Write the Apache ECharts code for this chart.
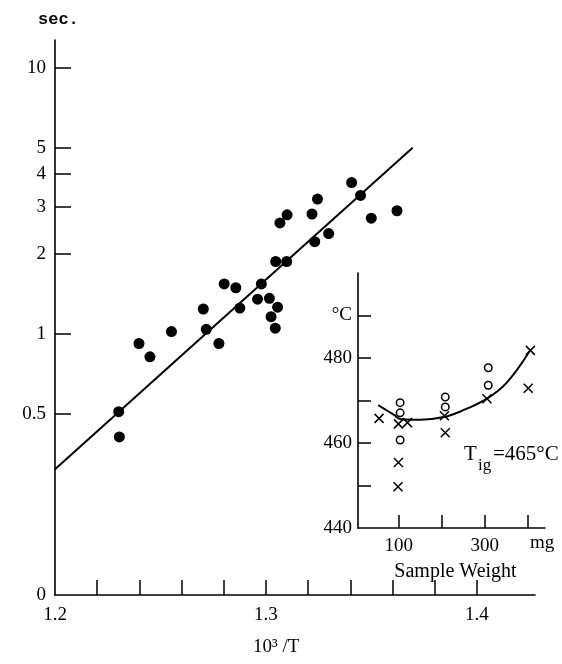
<!DOCTYPE html>
<html><head><meta charset="utf-8">
<script src="https://cdn.jsdelivr.net/npm/echarts@6/dist/echarts.min.js"></script>
<style>html,body{margin:0;padding:0;background:#fff}#c{width:562px;height:664px}</style>
</head><body><div id="c"></div>
<script>
// Main plot: ignition delay (sec.) vs 10^3/T
const invT = [1.3406,1.3448,1.3244,1.3100,1.3066,1.3218,1.3499,1.3621,1.3297,1.3231,1.3046,1.3098,1.2802,1.2857,1.2978,1.2960,1.3016,1.3055,1.2703,1.2876,1.3024,1.3044,1.2552,1.2717,1.2398,1.2777,1.2450,1.2302,1.2305];
const delay = [3.70,3.31,3.21,2.80,2.61,2.82,2.72,2.90,2.38,2.22,1.87,1.87,1.54,1.49,1.54,1.35,1.36,1.26,1.24,1.25,1.16,1.05,1.02,1.04,0.92,0.92,0.82,0.51,0.41];
const fitX = [1.2, 1.3695];
const fitY = [0.31, 5.0];
const yTickValues = [0.5, 1, 2, 3, 4, 5, 10];
const xTickValues = [1.22, 1.24, 1.26, 1.28, 1.30, 1.32, 1.34, 1.36, 1.38, 1.40];
const xLabelValues = [1.2, 1.3, 1.4];

// Inset: ignition temperature vs sample weight
const crossW = [54, 99, 120, 206, 208, 305, 406, 401, 99, 98];
const crossT = [465.8, 464.5, 464.8, 466.4, 462.4, 470.4, 481.8, 472.9, 455.4, 449.7];
const circleW = [103, 103, 103, 208, 208, 308, 308];
const circleT = [469.5, 467.1, 460.7, 470.8, 468.5, 477.7, 473.6];
const curveW = [52, 89, 105, 150, 205, 245, 304, 350, 404];
const curveT = [468.9, 466.6, 465.6, 465.5, 466.1, 467.5, 470.4, 474.1, 481.6];
const insetXTicks = [100, 200, 300, 400];
const insetXLabels = [100, 300];
const insetYTicks = [450, 460, 470, 480, 490];
const insetYLabels = [440, 460, 480, 490];

const LMIN = Math.log10(0.1045), LMAX = Math.log10(12.7);
const SERIF = 'Liberation Serif';
const black = '#000';

const chart = echarts.init(document.getElementById('c'), null, {renderer: 'canvas'});
const axLine = {show: true, onZero: false, lineStyle: {color: black, width: 1.6}};
const tickStyle = {color: black, width: 1.5};

chart.setOption({
  animation: false,
  backgroundColor: '#fff',
  grid: [
    {left: 55, right: 27, top: 40, bottom: 69},
    {left: 358, right: 17, top: 273, bottom: 136}
  ],
  xAxis: [
    {gridIndex: 0, type: 'value', min: 1.2, max: 1.4275,
     axisLine: axLine, splitLine: {show: false},
     axisTick: {show: true, inside: true, length: 15, lineStyle: tickStyle, customValues: xTickValues},
     axisLabel: {customValues: xLabelValues, formatter: v => v.toFixed(1), color: black, fontFamily: SERIF, fontSize: 19, margin: 11}},
    {gridIndex: 1, type: 'value', min: 5, max: 440,
     axisLine: axLine, splitLine: {show: false},
     axisTick: {show: true, inside: true, length: 13, lineStyle: tickStyle, customValues: insetXTicks},
     axisLabel: {customValues: insetXLabels, formatter: v => String(v), color: black, fontFamily: SERIF, fontSize: 19, margin: 9},
     name: 'Sample Weight', nameLocation: 'middle', nameGap: 34,
     nameTextStyle: {color: black, fontFamily: SERIF, fontSize: 20, padding: [0, 0, 0, 8]}}
  ],
  yAxis: [
    {gridIndex: 0, type: 'value', min: LMIN, max: LMAX,
     axisLine: axLine, splitLine: {show: false},
     axisTick: {show: true, inside: true, length: 16, lineStyle: tickStyle, customValues: yTickValues.map(Math.log10)},
     axisLabel: {customValues: [LMIN].concat(yTickValues.map(Math.log10)),
       formatter: v => (v < LMIN + 0.01 ? '0' : String(Math.round(Math.pow(10, v) * 10) / 10)),
       color: black, fontFamily: SERIF, fontSize: 19, margin: 9}},
    {gridIndex: 1, type: 'value', min: 440, max: 500,
     axisLine: axLine, splitLine: {show: false},
     axisTick: {show: true, inside: true, length: 13, lineStyle: tickStyle, customValues: insetYTicks},
     axisLabel: {customValues: insetYLabels, formatter: v => (v === 490 ? '°C' : String(v)),
       color: black, fontFamily: SERIF, fontSize: 19, margin: 6}}
  ],
  series: [
    {type: 'line', xAxisIndex: 0, yAxisIndex: 0, symbol: 'none', silent: true,
     data: fitX.map((x, i) => [x, Math.log10(fitY[i])]),
     lineStyle: {color: black, width: 2}},
    {type: 'scatter', xAxisIndex: 0, yAxisIndex: 0, symbol: 'circle', symbolSize: 11,
     data: invT.map((x, i) => [x, Math.log10(delay[i])]),
     itemStyle: {color: black, opacity: 1}},
    {type: 'line', xAxisIndex: 1, yAxisIndex: 1, symbol: 'none', smooth: 0.4, silent: true,
     data: curveW.map((w, i) => [w, curveT[i]]),
     lineStyle: {color: black, width: 2}},
    {type: 'scatter', xAxisIndex: 1, yAxisIndex: 1, symbol: 'path://M0,0L10,10M10,0L0,10', symbolSize: 9,
     data: crossW.map((w, i) => [w, crossT[i]]),
     itemStyle: {color: 'none', borderColor: black, borderWidth: 1.5, opacity: 1}},
    {type: 'scatter', xAxisIndex: 1, yAxisIndex: 1, symbol: 'circle', symbolSize: 7.5,
     data: circleW.map((w, i) => [w, circleT[i]]),
     itemStyle: {color: '#fff', borderColor: black, borderWidth: 1.5, opacity: 1}}
  ],
  graphic: [
    {type: 'text', x: 38, y: 11, style: {text: 'sec.', font: 'bold 17px "Liberation Mono"', fill: black}},
    {type: 'text', x: 253, y: 638, style: {text: '10³ /T', font: '19px "Liberation Serif"', fill: black}},
    {type: 'text', x: 530, y: 534, style: {text: 'mg', font: '19px "Liberation Serif"', fill: black}},
    {type: 'text', x: 464, y: 444, style: {text: 'T', font: '21px "Liberation Serif"', fill: black}},
    {type: 'text', x: 478, y: 457, style: {text: 'ig', font: '17px "Liberation Serif"', fill: black}},
    {type: 'text', x: 493, y: 444, style: {text: '=465°C', font: '21px "Liberation Serif"', fill: black}}
  ]
});
</script>
</body></html>
